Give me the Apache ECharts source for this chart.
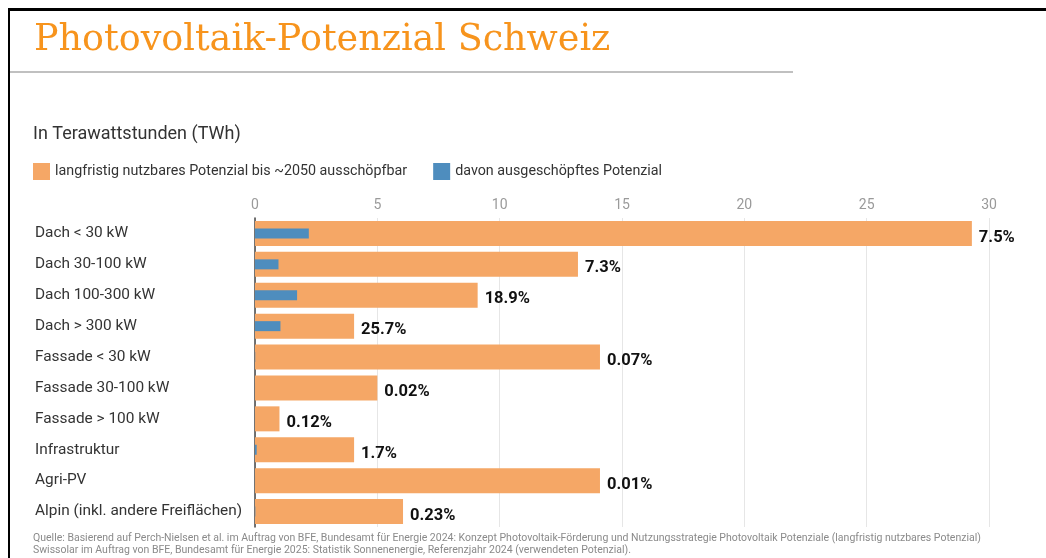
<!DOCTYPE html>
<html>
<head>
<meta charset="utf-8">
<script src="https://cdn.jsdelivr.net/npm/echarts@6/dist/echarts.min.js"></script>
<style>
  html, body { margin: 0; padding: 0; background: #fff; }
  #chart { width: 1046px; height: 558px; }
</style>
</head>
<body>
<div id="chart"></div>
<script>
  // Kategorien (von oben nach unten)
  const categories = [
    'Dach < 30 kW', 'Dach 30-100 kW', 'Dach 100-300 kW', 'Dach > 300 kW',
    'Fassade < 30 kW', 'Fassade 30-100 kW', 'Fassade > 100 kW',
    'Infrastruktur', 'Agri-PV', 'Alpin (inkl. andere Freiflächen)'
  ]
  // langfristig nutzbares Potenzial (TWh)
  const potential = [29.3, 13.2, 9.1, 4.05, 14.1, 5.0, 1.0, 4.05, 14.1, 6.05]
  // davon ausgeschöpft (TWh)
  const used = [2.2, 0.96, 1.72, 1.04, 0.01, 0.001, 0.0012, 0.07, 0.0014, 0.014]
  // Anteil ausgeschöpft
  const shares = ['7.5%', '7.3%', '18.9%', '25.7%', '0.07%', '0.02%', '0.12%', '1.7%', '0.01%', '0.23%']

  const chart = echarts.init(document.getElementById('chart'))
  const txt = '#333'

  const option = {
    animation: false,
    textStyle: { fontFamily: 'Roboto' },
    title: {
      text: 'Photovoltaik-Potenzial Schweiz',
      left: 29, top: 17,
      textStyle: { fontFamily: 'DejaVu Serif', fontWeight: 'normal', fontSize: 36.5, color: '#F7941D' }
    },
    legend: {
      left: 33, top: 163, padding: 0,
      itemWidth: 17, itemHeight: 17, itemGap: 26,
      icon: 'rect',
      textStyle: { fontSize: 14.3, color: txt, fontFamily: 'Roboto' },
      data: ['langfristig nutzbares Potenzial bis ~2050 ausschöpfbar', 'davon ausgeschöpftes Potenzial']
    },
    grid: { left: 255, right: 57, top: 218, bottom: 31, containLabel: false },
    xAxis: {
      type: 'value', position: 'top', min: 0, max: 30, interval: 5,
      axisLine: { show: false }, axisTick: { show: false },
      axisLabel: { color: '#9a9a9a', fontSize: 14, margin: 6 },
      splitLine: { lineStyle: { color: '#e6e6e6', width: 1 } }
    },
    yAxis: [
      {
        type: 'category', data: categories, inverse: true,
        axisLine: { lineStyle: { color: '#444', width: 1.5 } },
        axisTick: { show: false },
        axisLabel: { color: txt, fontSize: 15.4, align: 'left', margin: 220, verticalAlign: 'middle', padding: [3, 0, 0, 0] }
      },
      { type: 'category', data: categories, inverse: true, show: false }
    ],
    series: [
      {
        name: 'langfristig nutzbares Potenzial bis ~2050 ausschöpfbar',
        type: 'bar', yAxisIndex: 0, barWidth: 25,
        itemStyle: { color: '#F5A766' },
        label: {
          show: true, position: 'right', distance: 7, offset: [0, 4],
          fontSize: 16.5, fontWeight: 'bold', color: '#111',
          formatter: p => shares[p.dataIndex]
        },
        data: potential,
        z: 1
      },
      {
        name: 'davon ausgeschöpftes Potenzial',
        type: 'bar', yAxisIndex: 1, barWidth: 10,
        itemStyle: { color: '#4E8DBE' },
        data: used,
        z: 3
      }
    ],
    graphic: [
      { type: 'rect', shape: { x: 8, y: 8, width: 1038, height: 3 }, style: { fill: '#000' } },
      { type: 'rect', shape: { x: 8, y: 8, width: 2, height: 550 }, style: { fill: '#000' } },
      { type: 'rect', shape: { x: 10, y: 71, width: 783, height: 2 }, style: { fill: '#c0c0c0' } },
      {
        type: 'text', left: 33, top: 125,
        style: { text: 'In Terawattstunden (TWh)', fontSize: 18, fill: txt, fontFamily: 'Roboto' }
      },
      {
        type: 'text', left: 33, top: 532,
        style: {
          text: 'Quelle: Basierend auf Perch-Nielsen et al. im Auftrag von BFE, Bundesamt für Energie 2024: Konzept Photovoltaik-Förderung und Nutzungsstrategie Photovoltaik Potenziale (langfristig nutzbares Potenzial)\nSwissolar im Auftrag von BFE, Bundesamt für Energie 2025: Statistik Sonnenenergie, Referenzjahr 2024 (verwendeten Potenzial).',
          fontSize: 10.5, lineHeight: 12.5, fill: '#8a8a8a', fontFamily: 'Roboto'
        }
      }
    ]
  }

  chart.setOption(option)
  window.addEventListener('resize', () => chart.resize())
</script>
</body>
</html>
